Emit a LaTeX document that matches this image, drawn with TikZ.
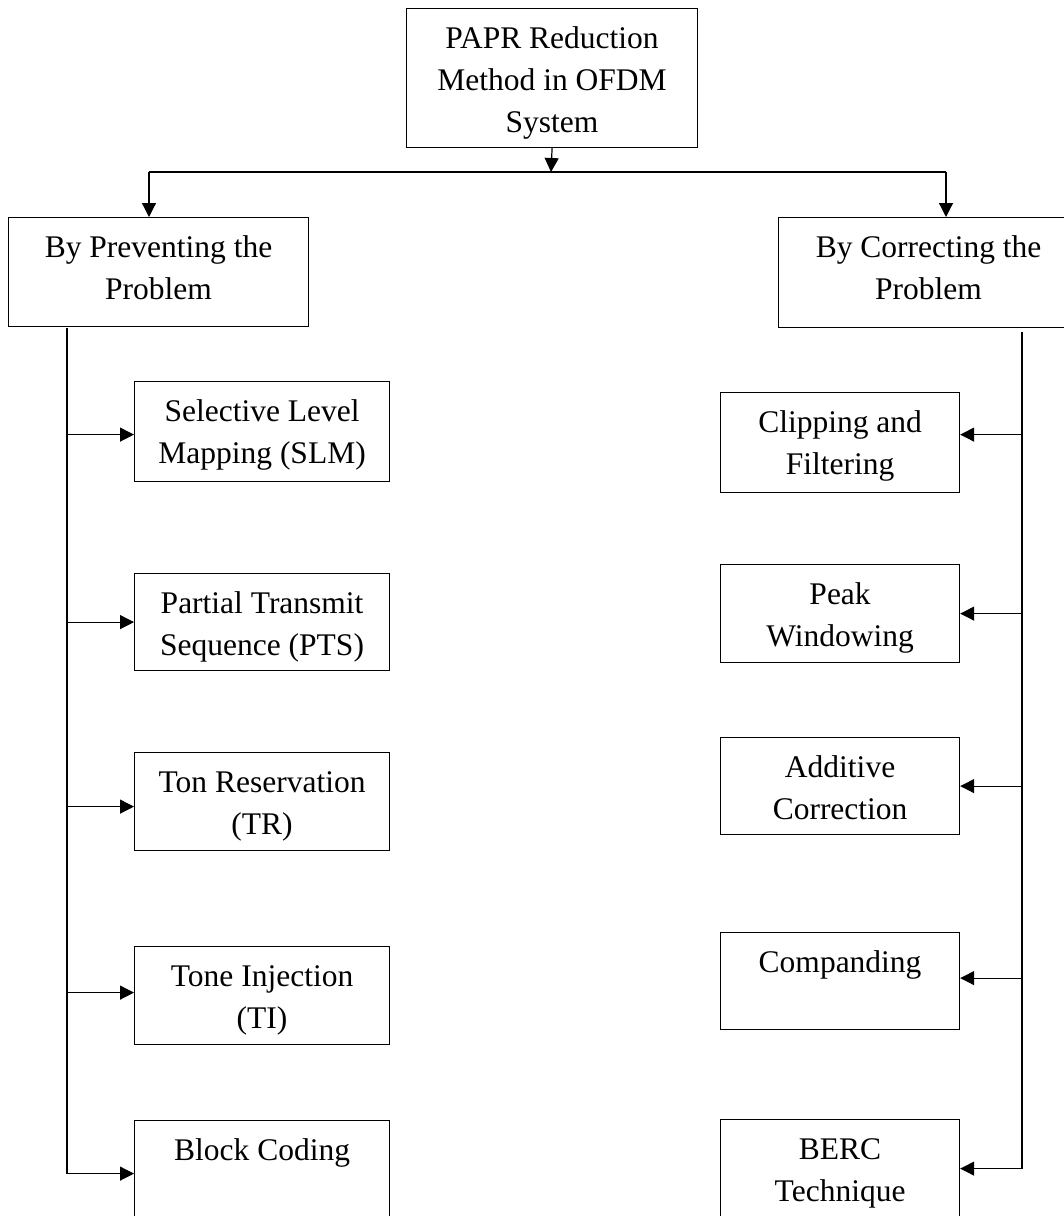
\documentclass[tikz,border=0pt]{standalone}
\usepackage{fontspec}
\setmainfont{Liberation Serif}
\usetikzlibrary{arrows.meta,positioning}

% box text: width, height, lines (top aligned)
\newcommand{\boxtext}[3]{\parbox[c][#2][t]{#1}{\centering\rule{0pt}{40pt}#3}}

\begin{document}
\begin{tikzpicture}[x=1pt,y=-1pt,
    box/.style={draw, line width=1.2pt, inner sep=0pt, anchor=north west,
                font=\fontsize{31.5}{42}\selectfont},
    link/.style={line width=1.2pt},
    arr/.style={link, -{Triangle[length=14pt,width=14pt]}}]
    \useasboundingbox (0,0) rectangle (1064,1216);
    \clip (0,0) rectangle (1064,1216);

    % top level
    \node[box] (papr) at (406,8) {\boxtext{291pt}{139pt}{PAPR Reduction\\Method in OFDM\\System}};
    \node[box] (prevent) at (8,217) {\boxtext{300pt}{109pt}{By Preventing the\\Problem}};
    \node[box] (correct) at (778,217) {\boxtext{300pt}{110pt}{By Correcting the\\Problem}};

    % preventing branch
    \node[box] (slm) at (134,381) {\boxtext{255pt}{100pt}{Selective Level\\Mapping (SLM)}};
    \node[box] (pts) at (134,573) {\boxtext{255pt}{97pt}{Partial Transmit\\Sequence (PTS)}};
    \node[box] (tr) at (134,752) {\boxtext{255pt}{98pt}{Ton Reservation\\(TR)}};
    \node[box] (ti) at (134,946) {\boxtext{255pt}{98pt}{Tone Injection\\(TI)}};
    \node[box] (block) at (134,1120) {\boxtext{255pt}{98pt}{Block Coding}};

    % correcting branch
    \node[box] (clipf) at (720,392) {\boxtext{239pt}{100pt}{Clipping and\\Filtering}};
    \node[box] (peak) at (720,564) {\boxtext{239pt}{98pt}{Peak\\Windowing}};
    \node[box] (addc) at (720,737) {\boxtext{239pt}{97pt}{Additive\\Correction}};
    \node[box] (compand) at (720,932) {\boxtext{239pt}{97pt}{Companding}};
    \node[box] (berc) at (720,1119) {\boxtext{239pt}{98pt}{BERC\\Technique}};

    % split under the top box
    \coordinate (split) at (551,172);
    \coordinate (lsplit) at (149,172);
    \coordinate (rsplit) at (946,172);
    \draw[arr] (papr.south) -- (split);
    \draw[link] (lsplit) -- (rsplit);
    \draw[arr] (lsplit) -- (lsplit |- prevent.north);
    \draw[arr] (rsplit) -- (rsplit |- correct.north);

    % left bus
    \coordinate (lbus) at (67,328);
    \draw[link] (lbus) -- ([yshift=-4pt]lbus |- block.west);
    \draw[arr] ([yshift=-3pt]lbus |- slm.west) -- ([yshift=-3pt]slm.west);
    \draw[arr] (lbus |- pts.west) -- (pts.west);
    \draw[arr] ([yshift=-5pt]lbus |- tr.west) -- ([yshift=-5pt]tr.west);
    \draw[arr] ([yshift=3pt]lbus |- ti.west) -- ([yshift=3pt]ti.west);
    \draw[arr] ([yshift=-4pt]lbus |- block.west) -- ([yshift=-4pt]block.west);

    % right bus
    \coordinate (rbus) at (1022,332);
    \draw[link] (rbus) -- (rbus |- berc.east);
    \draw[arr] ([yshift=8pt]rbus |- clipf.east) -- ([yshift=8pt]clipf.east);
    \draw[arr] (rbus |- peak.east) -- (peak.east);
    \draw[arr] (rbus |- addc.east) -- (addc.east);
    \draw[arr] ([yshift=3pt]rbus |- compand.east) -- ([yshift=3pt]compand.east);
    \draw[arr] (rbus |- berc.east) -- (berc.east);
\end{tikzpicture}
\end{document}
